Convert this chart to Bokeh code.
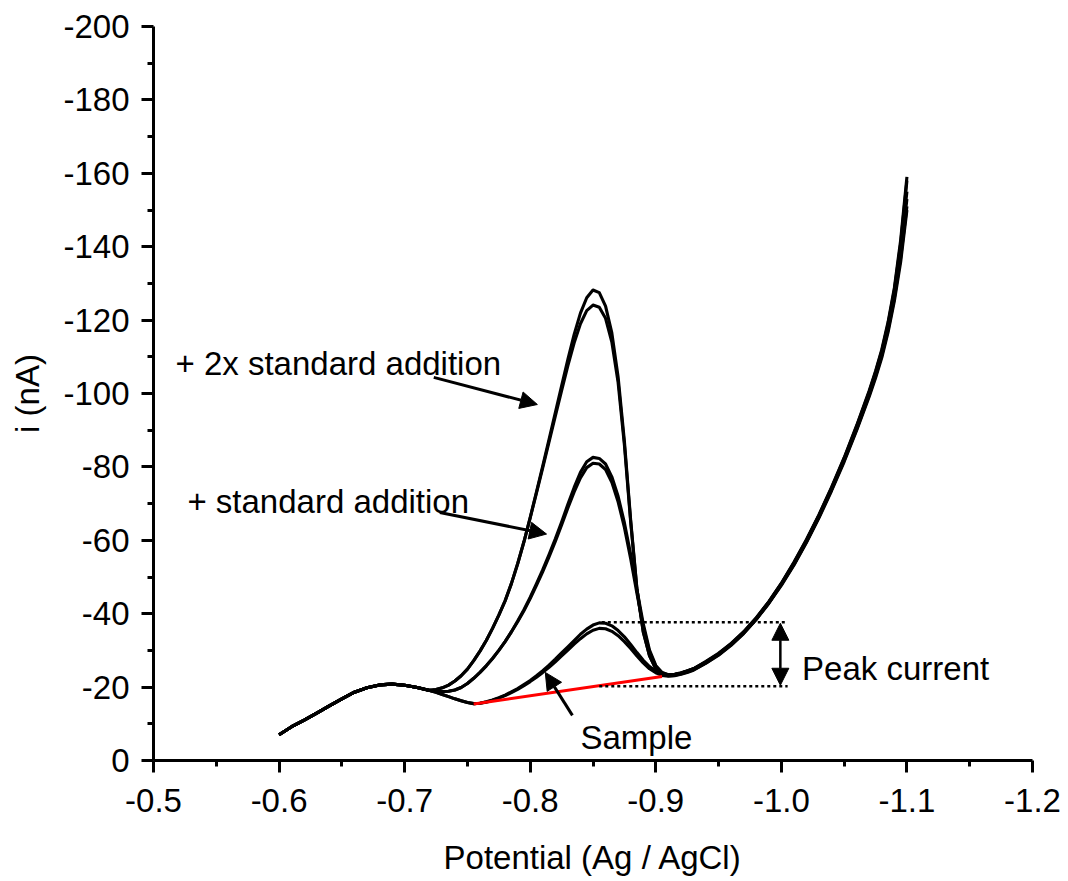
from bokeh.plotting import figure
from bokeh.models import Range1d, FixedTicker, Arrow, NormalHead, Label
from bokeh.embed import file_html
from bokeh.resources import INLINE

# ---------------- data ----------------
potential = [-0.60, -0.61, -0.62, -0.63, -0.64, -0.65, -0.66, -0.67, -0.68, -0.69, -0.70, -0.71, -0.72,
             -0.725, -0.73, -0.735, -0.74, -0.745, -0.75, -0.755, -0.76, -0.765, -0.77,
             -0.775, -0.78, -0.785, -0.79, -0.795, -0.80, -0.805, -0.81, -0.815, -0.82,
             -0.825, -0.83, -0.835, -0.84, -0.845, -0.85, -0.855, -0.86, -0.865, -0.87,
             -0.875, -0.88, -0.885, -0.89, -0.895, -0.90, -0.905, -0.91, -0.915, -0.92,
             -0.925, -0.93,
             -0.94, -0.95, -0.96, -0.97, -0.98, -0.99, -1.00, -1.01, -1.02, -1.03, -1.04,
             -1.05, -1.06, -1.07, -1.075, -1.08, -1.085, -1.09, -1.095, -1.10]

shared_start = [-7.0, -9.2, -11.0, -12.9, -14.9, -16.8, -18.6, -19.8, -20.6, -20.8, -20.5, -19.9, -19.1]

sample_a_mid = [-18.6, -18.0, -17.4, -16.8, -16.3, -15.8, -15.5, -15.6, -16.0, -16.5, -17.1, -17.8, -18.7,
                -19.6, -20.7, -21.8, -23.1, -24.5, -26.0, -27.6, -29.3, -31.0, -32.7, -34.4, -35.8, -36.9,
                -37.5, -37.4, -36.7, -35.4, -33.7, -31.6, -29.4, -27.3, -25.6, -24.3, -23.5, -23.1, -23.2,
                -23.6, -24.1, -24.7]
sample_b_mid = [-18.6, -18.0, -17.4, -16.8, -16.3, -15.8, -15.5, -15.6, -15.9, -16.4, -17.0, -17.7, -18.5,
                -19.4, -20.4, -21.5, -22.7, -24.0, -25.4, -26.9, -28.5, -30.1, -31.7, -33.2, -34.5, -35.5,
                -36.0, -35.9, -35.2, -34.0, -32.4, -30.5, -28.5, -26.6, -25.0, -23.9, -23.2, -23.0, -23.1,
                -23.5, -24.0, -24.6]
std1_a_mid = [-18.9, -18.8, -18.85, -19.2, -19.9, -21.0, -22.4, -24.0, -25.8, -27.8, -30.0, -32.4, -35.1,
              -38.0, -41.1, -44.5, -48.2, -52.0, -56.1, -60.4, -65.0, -69.8, -74.4, -78.5, -81.4, -82.6,
              -82.3, -80.8, -77.3, -72.0, -64.8, -56.2, -46.5, -37.3, -30.1, -25.9, -24.0, -23.4, -23.5,
              -23.9, -24.4, -25.0]
std1_b_mid = [-18.9, -18.8, -18.85, -19.2, -19.9, -21.0, -22.4, -24.0, -25.8, -27.8, -30.0, -32.4, -35.0,
              -37.8, -40.8, -44.1, -47.7, -51.5, -55.5, -59.7, -64.2, -68.8, -73.2, -77.0, -79.8, -81.0,
              -80.8, -79.3, -75.8, -70.5, -63.5, -55.0, -45.5, -36.5, -29.6, -25.6, -23.9, -23.3, -23.4,
              -23.8, -24.3, -24.9]
std2_a_mid = [-19.35, -19.8, -20.55, -21.65, -23.1, -24.9, -27.2, -29.8, -32.7, -36.0, -39.6, -43.5, -48.2,
              -53.6, -59.6, -66.2, -73.2, -80.3, -87.5, -94.8, -102.1, -109.3, -116.1, -121.9, -126.1, -128.2,
              -127.5, -123.8, -116.5, -104.5, -87.0, -65.5, -46.8, -35.2, -28.6, -25.0, -23.6, -23.2, -23.4,
              -23.8, -24.4, -25.0]
std2_b_mid = [-19.35, -19.8, -20.55, -21.65, -23.1, -24.9, -27.2, -29.8, -32.7, -36.0, -39.6, -43.5, -48.2,
              -53.6, -59.6, -66.2, -72.9, -79.8, -86.8, -93.8, -100.8, -107.6, -113.8, -119.0, -122.6, -124.1,
              -123.5, -120.5, -114.0, -103.0, -86.0, -65.0, -46.5, -35.0, -28.5, -25.0, -23.6, -23.2, -23.4,
              -23.8, -24.4, -25.0]

sample_a_tail = [-26.6, -28.8, -31.5, -34.7, -38.5, -42.9, -47.9, -53.4, -59.6, -66.4, -73.8, -81.7, -90.3,
                 -99.6, -104.7, -110.4, -117.4, -126.0, -137.0, -151.0]
sample_b_tail = [-26.5, -28.7, -31.4, -34.6, -38.4, -42.8, -47.7, -53.2, -59.4, -66.1, -73.5, -81.4, -90.0,
                 -99.2, -104.2, -109.8, -116.7, -125.2, -135.8, -150.0]
std1_a_tail = [-26.8, -29.0, -31.7, -34.9, -38.7, -43.1, -48.1, -53.7, -59.9, -66.7, -74.1, -82.1, -90.8,
               -100.2, -105.4, -111.2, -118.5, -127.5, -139.5, -155.0]
std1_b_tail = [-26.7, -28.9, -31.6, -34.8, -38.6, -43.0, -48.0, -53.5, -59.7, -66.5, -73.9, -81.9, -90.5,
               -99.9, -105.0, -110.8, -118.0, -126.8, -138.2, -153.0]
std2_a_tail = [-27.0, -29.2, -31.9, -35.1, -38.9, -43.3, -48.3, -54.0, -60.2, -67.0, -74.5, -82.5, -91.3,
               -100.8, -106.1, -112.0, -119.5, -128.8, -141.8, -159.0]
std2_b_tail = [-26.9, -29.1, -31.8, -35.0, -38.8, -43.2, -48.2, -53.9, -60.1, -66.9, -74.3, -82.3, -91.1,
               -100.5, -105.8, -111.6, -119.0, -128.2, -140.8, -158.0]

curves = [
    shared_start + sample_a_mid + sample_a_tail,
    shared_start + sample_b_mid + sample_b_tail,
    shared_start + std1_a_mid + std1_a_tail,
    shared_start + std1_b_mid + std1_b_tail,
    shared_start + std2_a_mid + std2_a_tail,
    shared_start + std2_b_mid + std2_b_tail,
]

baseline_x = [-0.755, -0.905]
baseline_y = [-15.4, -22.9]

peak_top = -37.7
peak_base = -20.2

x_ticks = [-0.5, -0.6, -0.7, -0.8, -0.9, -1.0, -1.1, -1.2]
x_tick_labels = ["-0.5", "-0.6", "-0.7", "-0.8", "-0.9", "-1.0", "-1.1", "-1.2"]
x_minor = [-0.55, -0.65, -0.75, -0.85, -0.95, -1.05, -1.15]
y_ticks = [0, -20, -40, -60, -80, -100, -120, -140, -160, -180, -200]
y_tick_labels = ["0", "-20", "-40", "-60", "-80", "-100", "-120", "-140", "-160", "-180", "-200"]
y_minor = [-10, -30, -50, -70, -90, -110, -130, -150, -170, -190]

# ---------------- figure ----------------
FONT = "Liberation Sans"
FS = "33px"
p = figure(width=1068, height=881, output_backend="svg", toolbar_location=None,
           x_range=Range1d(-0.5, -1.2), y_range=Range1d(0, -200),
           min_border_left=153, min_border_right=36, min_border_top=26, min_border_bottom=121,
           x_axis_label="Potential (Ag / AgCl)", y_axis_label="i (nA)")
p.grid.visible = False
p.outline_line_color = None
p.background_fill_color = "white"
p.border_fill_color = "white"

p.xaxis.ticker = FixedTicker(ticks=x_ticks, minor_ticks=x_minor)
p.xaxis.major_label_overrides = dict(zip(x_ticks, x_tick_labels))
p.yaxis.ticker = FixedTicker(ticks=y_ticks, minor_ticks=y_minor)
p.yaxis.major_label_overrides = dict(zip(y_ticks, y_tick_labels))

for ax in (p.xaxis[0], p.yaxis[0]):
    ax.axis_line_width = 3
    ax.axis_line_color = "black"
    ax.major_tick_line_width = 3
    ax.minor_tick_line_width = 3
    ax.major_tick_line_color = "black"
    ax.minor_tick_line_color = "black"
    ax.major_tick_in = 0
    ax.major_tick_out = 12
    ax.minor_tick_in = 0
    ax.minor_tick_out = 6
    ax.major_label_text_font = FONT
    ax.major_label_text_font_size = FS
    ax.major_label_text_color = "black"
    ax.axis_label_text_font = FONT
    ax.axis_label_text_font_size = FS
    ax.axis_label_text_font_style = "normal"
    ax.axis_label_text_color = "black"

p.xaxis[0].major_label_standoff = 16
p.xaxis[0].axis_label_standoff = 24
p.yaxis[0].major_label_standoff = 12
p.yaxis[0].axis_label_standoff = 14

for ys in curves:
    p.line(potential, ys, line_color="black", line_width=3.1, line_join="round")

p.line(baseline_x, baseline_y, line_color="red", line_width=3)

# dotted guide lines for peak current
p.segment(x0=[-0.857, -0.855], y0=[peak_top, peak_base], x1=[-1.005, -1.005], y1=[peak_top, peak_base],
          line_color="black", line_width=2.5, line_dash="3 3")

def head():
    return NormalHead(size=17, fill_color="black", line_color="black", line_width=1)

p.add_layout(Arrow(start=head(), end=head(), x_start=-0.9992, y_start=peak_top + 0.3,
                   x_end=-0.9992, y_end=peak_base - 0.3, line_width=2.5, line_color="black"))
p.add_layout(Arrow(end=head(), x_start=-0.7232, y_start=-104.4, x_end=-0.8057, y_end=-97.0,
                   line_width=3, line_color="black"))
p.add_layout(Arrow(end=head(), x_start=-0.728, y_start=-67.6, x_end=-0.813, y_end=-61.7,
                   line_width=3, line_color="black"))
p.add_layout(Arrow(end=head(), x_start=-0.8336, y_start=-12.3, x_end=-0.812, y_end=-24.0,
                   line_width=3, line_color="black"))

labels = [
    ("+ 2x standard addition", -0.5175, -108.2),
    ("+ standard addition", -0.527, -70.7),
    ("Sample", -0.840, -6.3),
    ("Peak current", -1.0165, -25.1),
]
for txt, lx, ly in labels:
    p.add_layout(Label(x=lx, y=ly, text=txt, text_font=FONT, text_font_size=FS,
                       text_color="black", text_baseline="alphabetic", text_align="left"))

open("out.html", "w").write(file_html(p, INLINE))
